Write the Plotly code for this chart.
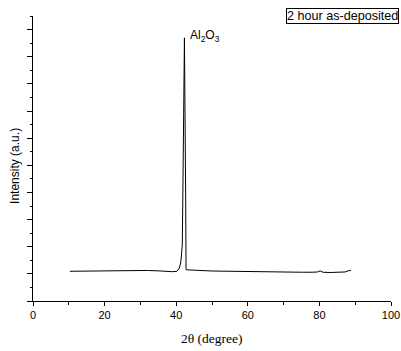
import plotly.graph_objects as go

# 2-theta (degree) and intensity (a.u.)
two_theta = [10.3, 14, 18, 22, 26, 29, 32, 35, 37, 39, 40.2, 40.9, 41.3, 41.7, 41.9,
             42.3, 42.65, 42.75, 43.3, 46, 50, 55, 60, 65, 70, 75, 78, 79.5, 80.2,
             81, 83, 86, 87.2, 88, 88.8]
intensity = [219, 220, 221, 222, 224, 226, 225, 222, 218, 216, 219, 243, 288, 413, 893,
             1939, 745, 231, 229, 224, 221, 219, 216, 214, 213, 212, 212, 214, 222,
             212, 210, 209, 214, 222, 226]

x_ticks = [0, 20, 40, 60, 80, 100]
x_title = "2θ (degree)"
y_title = "Intensity (a.u.)"
peak_label = "Al<sub>2</sub>O<sub>3</sub>"
peak_pos = (43.4, 1950)
legend_text = "2 hour as-deposited"

fig = go.Figure()
fig.add_trace(go.Scatter(x=two_theta, y=intensity, mode="lines",
                         line=dict(color="black", width=1), showlegend=False))

fig.update_layout(
    width=401, height=351,
    margin=dict(l=33, r=10, t=16, b=50),
    paper_bgcolor="white", plot_bgcolor="white",
    font=dict(family="Liberation Sans, Arial", color="black", size=11),
    xaxis=dict(range=[0, 100], tickvals=x_ticks, showgrid=False, zeroline=False,
               automargin=False,
               showline=True, linecolor="black", linewidth=1.2,
               ticks="outside", ticklen=4, tickwidth=1, tickcolor="black",
               minor=dict(dtick=10, ticks="outside", ticklen=2.5, tickcolor="black", showgrid=False),
               tickfont=dict(size=11, family="Liberation Sans, Arial")),
    yaxis=dict(range=[0, 2100], dtick=200, tick0=0, showgrid=False, zeroline=False,
               automargin=False,
               showline=True, linecolor="black", linewidth=1.2, showticklabels=False,
               ticks="outside", ticklen=5, tickwidth=1, tickcolor="black",
               minor=dict(dtick=100, ticks="outside", ticklen=2, tickcolor="black", showgrid=False)),
    annotations=[
        dict(text=peak_label, x=peak_pos[0], y=peak_pos[1], xref="x", yref="y",
             xanchor="left", yanchor="middle", showarrow=False,
             font=dict(size=12, family="Liberation Sans, Arial")),
        dict(text=legend_text, x=0.7067, y=1.0295, xref="paper", yref="paper",
             xanchor="left", yanchor="top", showarrow=False,
             bordercolor="black", borderwidth=1, borderpad=0,
             font=dict(size=12.6, family="Liberation Sans, Arial")),
        dict(text=y_title, x=-0.0503, y=0.474, xref="paper", yref="paper",
             xanchor="center", yanchor="middle", textangle=-90, showarrow=False,
             font=dict(size=12, family="Liberation Sans, Arial")),
        dict(text=x_title, x=0.5, y=-0.13, xref="paper", yref="paper",
             xanchor="center", yanchor="middle", showarrow=False,
             font=dict(size=13.5, family="Liberation Serif, Times New Roman")),
    ],
)

fig.write_html("out.html")
